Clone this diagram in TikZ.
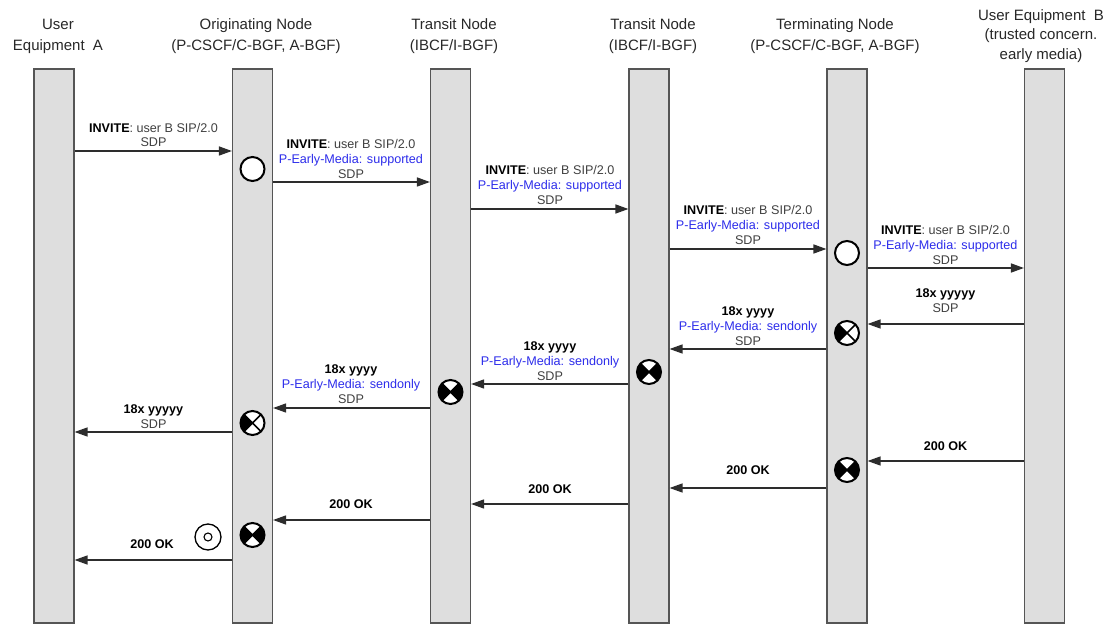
\documentclass[tikz,border=0pt]{standalone}
\usepackage{fontspec}
\setmainfont{Liberation Sans}
\usetikzlibrary{arrows.meta}
\definecolor{lifefill}{RGB}{222,222,222}
\definecolor{lifedraw}{RGB}{85,85,85}
\definecolor{txtgray}{RGB}{64,64,64}
\definecolor{headcol}{RGB}{40,40,40}
\definecolor{eblue}{RGB}{45,45,235}
\definecolor{linecol}{RGB}{45,45,45}
\newcommand{\mbold}[1]{\textcolor{black}{\textbf{#1}}}
\newcommand{\pem}[1]{\textcolor{eblue}{P-Early-Media: #1}}
\begin{document}
\begin{tikzpicture}[x=1bp,y=-1bp,
  life/.style={draw=lifedraw,fill=lifefill,line width=1.1bp,minimum width=40bp,minimum height=554bp,inner sep=0pt},
  head/.style={align=center,font=\fontsize{15bp}{21bp}\selectfont,text=headcol,inner sep=0pt},
  lbl/.style={align=center,font=\fontsize{12.6bp}{14.8bp}\selectfont,text=txtgray,inner sep=0pt},
  msg/.style={draw=linecol,line width=1.4bp,-{Triangle[length=13bp,width=9bp]}},
  gatecirc/.style={circle,draw=black,line width=2bp,fill=white,minimum size=24bp,inner sep=0pt},
  openg/.style={circle,draw=black,line width=2bp,fill=white,minimum size=24bp,inner sep=0pt},
  gateL/.pic={\node[gatecirc] (-c) at (0,0) {};
    \fill[black] (0,0) -- (135:12) arc[start angle=135,end angle=225,radius=12] -- cycle;
    \draw[black,line width=1.6bp] (45:12) -- (225:12) (135:12) -- (-45:12);},
  gateLR/.pic={\node[gatecirc] (-c) at (0,0) {};
    \fill[black] (0,0) -- (135:12) arc[start angle=135,end angle=225,radius=12] -- cycle
                 (0,0) -- (-45:12) arc[start angle=-45,end angle=45,radius=12] -- cycle;
    \draw[black,line width=1.6bp] (45:12) -- (225:12) (135:12) -- (-45:12);}
]
\useasboundingbox[fill=white] (0,0) rectangle (1118,628);

% headers
\node[head] (hA) at (58,36) {User\\Equipment\ \ A};
\node[head] (hO) at (256,36) {Originating Node\\(P-CSCF/C-BGF, A-BGF)};
\node[head] (hT1) at (454,36) {Transit Node\\(IBCF/I-BGF)};
\node[head] (hT2) at (653,36) {Transit Node\\(IBCF/I-BGF)};
\node[head,font=\fontsize{15bp}{21bp}\selectfont] (hTe) at (835,36) {Terminating Node\\(P-CSCF/C-BGF, A-BGF)};
\node[head,font=\fontsize{15bp}{19.5bp}\selectfont] (hB) at (1041,36) {User Equipment\ \ B\\(trusted concern.\\early media)};

% lifelines
\node[life] (LA)  at (54,346) {};
\node[life] (LO)  at (252.5,346) {};
\node[life] (LT1) at (450.5,346) {};
\node[life] (LT2) at (649,346) {};
\node[life] (LTe) at (847,346) {};
\node[life] (LB)  at (1044.5,346) {};

% message rows
\coordinate (r1) at (0,151);
\coordinate (r2) at (0,182);
\coordinate (r3) at (0,209);
\coordinate (r4) at (0,249);
\coordinate (r5) at (0,268);
\coordinate (r6) at (0,324);
\coordinate (r7) at (0,349);
\coordinate (r8) at (0,384);
\coordinate (r9) at (0,408);
\coordinate (r10) at (0,432);
\coordinate (r11) at (0,461);
\coordinate (r12) at (0,488);
\coordinate (r13) at (0,504);
\coordinate (r14) at (0,520);
\coordinate (r15) at (0,560);

% INVITE forward
\draw[msg] (LA.east |- r1) -- (LO.west |- r1);
\node[lbl] (l1) at (153.5,135) {\mbold{INVITE}: user B SIP/2.0\\SDP};
\draw[msg] (LO.east |- r2) -- (LT1.west |- r2);
\node[lbl] (l2) at (351,159) {\mbold{INVITE}: user B SIP/2.0\\\pem{supported}\\SDP};
\draw[msg] (LT1.east |- r3) -- (LT2.west |- r3);
\node[lbl] (l3) at (550,185) {\mbold{INVITE}: user B SIP/2.0\\\pem{supported}\\SDP};
\draw[msg] (LT2.east |- r4) -- (LTe.west |- r4);
\node[lbl] (l4) at (748,225) {\mbold{INVITE}: user B SIP/2.0\\\pem{supported}\\SDP};
\draw[msg] (LTe.east |- r5) -- (LB.west |- r5);
\node[lbl] (l5) at (945.5,245) {\mbold{INVITE}: user B SIP/2.0\\\pem{supported}\\SDP};

% 18x backward
\draw[msg] (LB.west |- r6) -- (LTe.east |- r6);
\node[lbl] (l6) at (945.5,301) {\mbold{18x yyyyy}\\SDP};
\draw[msg] (LTe.west |- r7) -- (LT2.east |- r7);
\node[lbl] (l7) at (748,326) {\mbold{18x yyyy}\\\pem{sendonly}\\SDP};
\draw[msg] (LT2.west |- r8) -- (LT1.east |- r8);
\node[lbl] (l8) at (550,361) {\mbold{18x yyyy}\\\pem{sendonly}\\SDP};
\draw[msg] (LT1.west |- r9) -- (LO.east |- r9);
\node[lbl] (l9) at (351,384) {\mbold{18x yyyy}\\\pem{sendonly}\\SDP};
\draw[msg] (LO.west |- r10) -- (LA.east |- r10);
\node[lbl] (l10) at (153.5,417) {\mbold{18x yyyyy}\\SDP};

% 200 OK backward
\draw[msg] (LB.west |- r11) -- (LTe.east |- r11);
\node[lbl] (l11) at (945.5,446) {\mbold{200 OK}};
\draw[msg] (LTe.west |- r12) -- (LT2.east |- r12);
\node[lbl] (l12) at (748,470) {\mbold{200 OK}};
\draw[msg] (LT2.west |- r13) -- (LT1.east |- r13);
\node[lbl] (l13) at (550,489) {\mbold{200 OK}};
\draw[msg] (LT1.west |- r14) -- (LO.east |- r14);
\node[lbl] (l14) at (351,504) {\mbold{200 OK}};
\draw[msg] (LO.west |- r15) -- (LA.east |- r15);
\node[lbl] (l15) at (152,544) {\mbold{200 OK}};

% gate symbols
\node[openg] (oO) at (252.5,169) {};
\node[openg] (oTe) at (847,253) {};
\pic (gL1) at (847,333) {gateL};
\pic (gL2) at (252.5,423) {gateL};
\pic (gB1) at (649,372) {gateLR};
\pic (gB2) at (450.5,392) {gateLR};
\pic (gB3) at (847,470) {gateLR};
\pic (gB4) at (252.5,535) {gateLR};
\node[circle,draw=black,line width=1.3bp,minimum size=26bp,inner sep=0pt] (cc) at (208,537) {};
\node[circle,draw=black,line width=1.1bp,minimum size=8bp,inner sep=0pt] (cci) at (cc.center) {};
\end{tikzpicture}
\end{document}
